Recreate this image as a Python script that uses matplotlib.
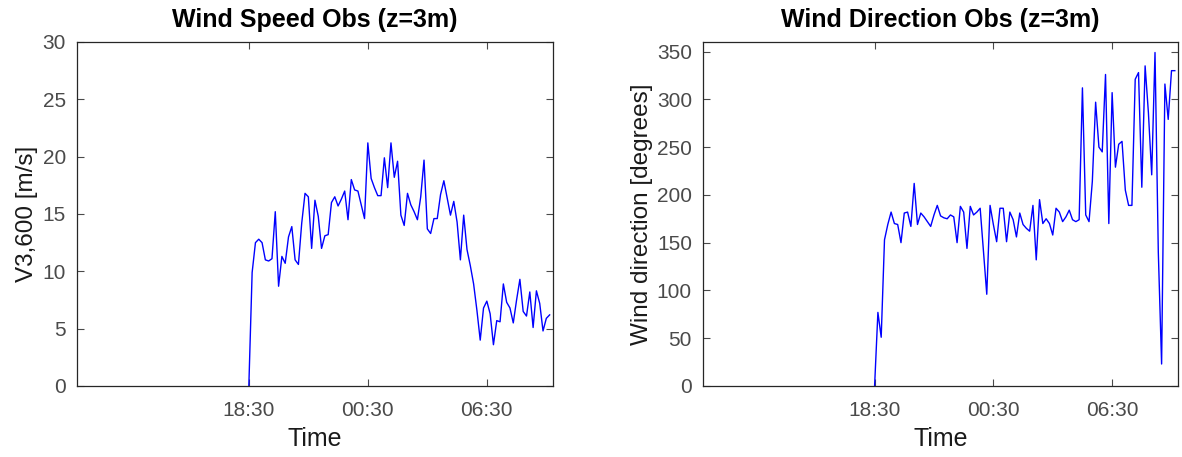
import numpy as np
import pandas as pd
import matplotlib
matplotlib.use('Agg')
import matplotlib.pyplot as plt
import matplotlib.dates as mdates

plt.rcParams['font.family'] = ['Liberation Sans', 'DejaVu Sans']

# 10-minute observations starting at 18:30
t_start = '2020-01-01 18:30'
wind_speed = [0, 9.9, 12.5, 12.8, 12.5, 11.0, 10.9, 11.1, 15.2, 8.7,
              11.3, 10.7, 13.0, 13.9, 11.0, 10.6, 14.2, 16.8, 16.5, 12.0,
              16.2, 14.8, 12.0, 13.1, 13.2, 16.0, 16.5, 15.7, 16.3, 17.0,
              14.5, 18.0, 17.1, 17.0, 15.8, 14.6, 21.2, 18.1, 17.3, 16.6,
              16.6, 19.9, 17.3, 21.2, 18.2, 19.6, 14.9, 14.0, 16.8, 15.8,
              15.2, 14.5, 16.5, 19.7, 13.7, 13.3, 14.6, 14.6, 16.7, 17.9,
              16.4, 14.9, 16.1, 14.3, 11.0, 14.9, 11.9, 10.5, 8.9, 6.6,
              4.0, 6.8, 7.4, 6.3, 3.6, 5.7, 5.6, 8.9, 7.3, 6.8,
              5.5, 7.5, 9.3, 6.5, 6.1, 8.2, 5.1, 8.3, 7.2, 4.8,
              5.9, 6.2]
wind_dir = [0, 77, 51, 153, 169, 182, 170, 169, 150, 181,
            182, 167, 212, 169, 181, 177, 172, 167, 179, 189,
            178, 176, 175, 179, 177, 150, 188, 182, 144, 188,
            179, 182, 186, 141, 96, 189, 169, 151, 186, 186,
            151, 182, 174, 156, 181, 169, 165, 162, 189, 132,
            195, 170, 175, 170, 158, 186, 182, 172, 177, 184,
            174, 172, 174, 312, 179, 172, 214, 297, 250, 245,
            326, 170, 307, 229, 253, 256, 205, 189, 189, 321,
            328, 208, 335, 286, 221, 349, 140, 23, 316, 279,
            330, 330]
tick_times = ['2020-01-01 18:30', '2020-01-02 00:30', '2020-01-02 06:30']
x_limits = ['2020-01-01 09:50', '2020-01-02 09:50']

time = pd.date_range(t_start, periods=len(wind_speed), freq='10min')

fig = plt.figure(figsize=(11.82, 4.57), dpi=100)
ax1 = fig.add_axes([0.0651, 0.1554, 0.4027, 0.7527])
ax2 = fig.add_axes([0.5948, 0.1554, 0.4019, 0.7527])

grey = '#4a4a4a'
for ax, y, ttl, ylab, ylim, yt in [
        (ax1, wind_speed, 'Wind Speed Obs (z=3m)', 'V3,600 [m/s]', (0, 30), np.arange(0, 31, 5)),
        (ax2, wind_dir, 'Wind Direction Obs (z=3m)', 'Wind direction [degrees]', (0, 360), np.arange(0, 351, 50))]:
    ax.plot(time, y, color='#0000ff', lw=1.0)
    ax.set_xlim(pd.to_datetime(x_limits[0]), pd.to_datetime(x_limits[1]))
    ax.set_ylim(*ylim)
    ax.set_yticks(yt)
    ax.set_xticks(pd.to_datetime(tick_times))
    ax.xaxis.set_major_formatter(mdates.DateFormatter('%H:%M'))
    ax.tick_params(direction='in', length=5, width=0.8, top=True, right=True,
                   labelsize=15, colors=grey)
    ax.tick_params(axis='x', pad=11)
    ax.tick_params(axis='y', pad=8)
    for s in ax.spines.values():
        s.set_color('#262626')
        s.set_linewidth(0.9)
    ax.set_title(ttl, fontsize=18, fontweight='bold', pad=11)
    ax.set_xlabel('Time', fontsize=18, color='#1a1a1a', labelpad=5)
    ax.set_ylabel(ylab, fontsize=17.5, color='#1a1a1a', labelpad=3)

fig.savefig('out.png', dpi=100)
